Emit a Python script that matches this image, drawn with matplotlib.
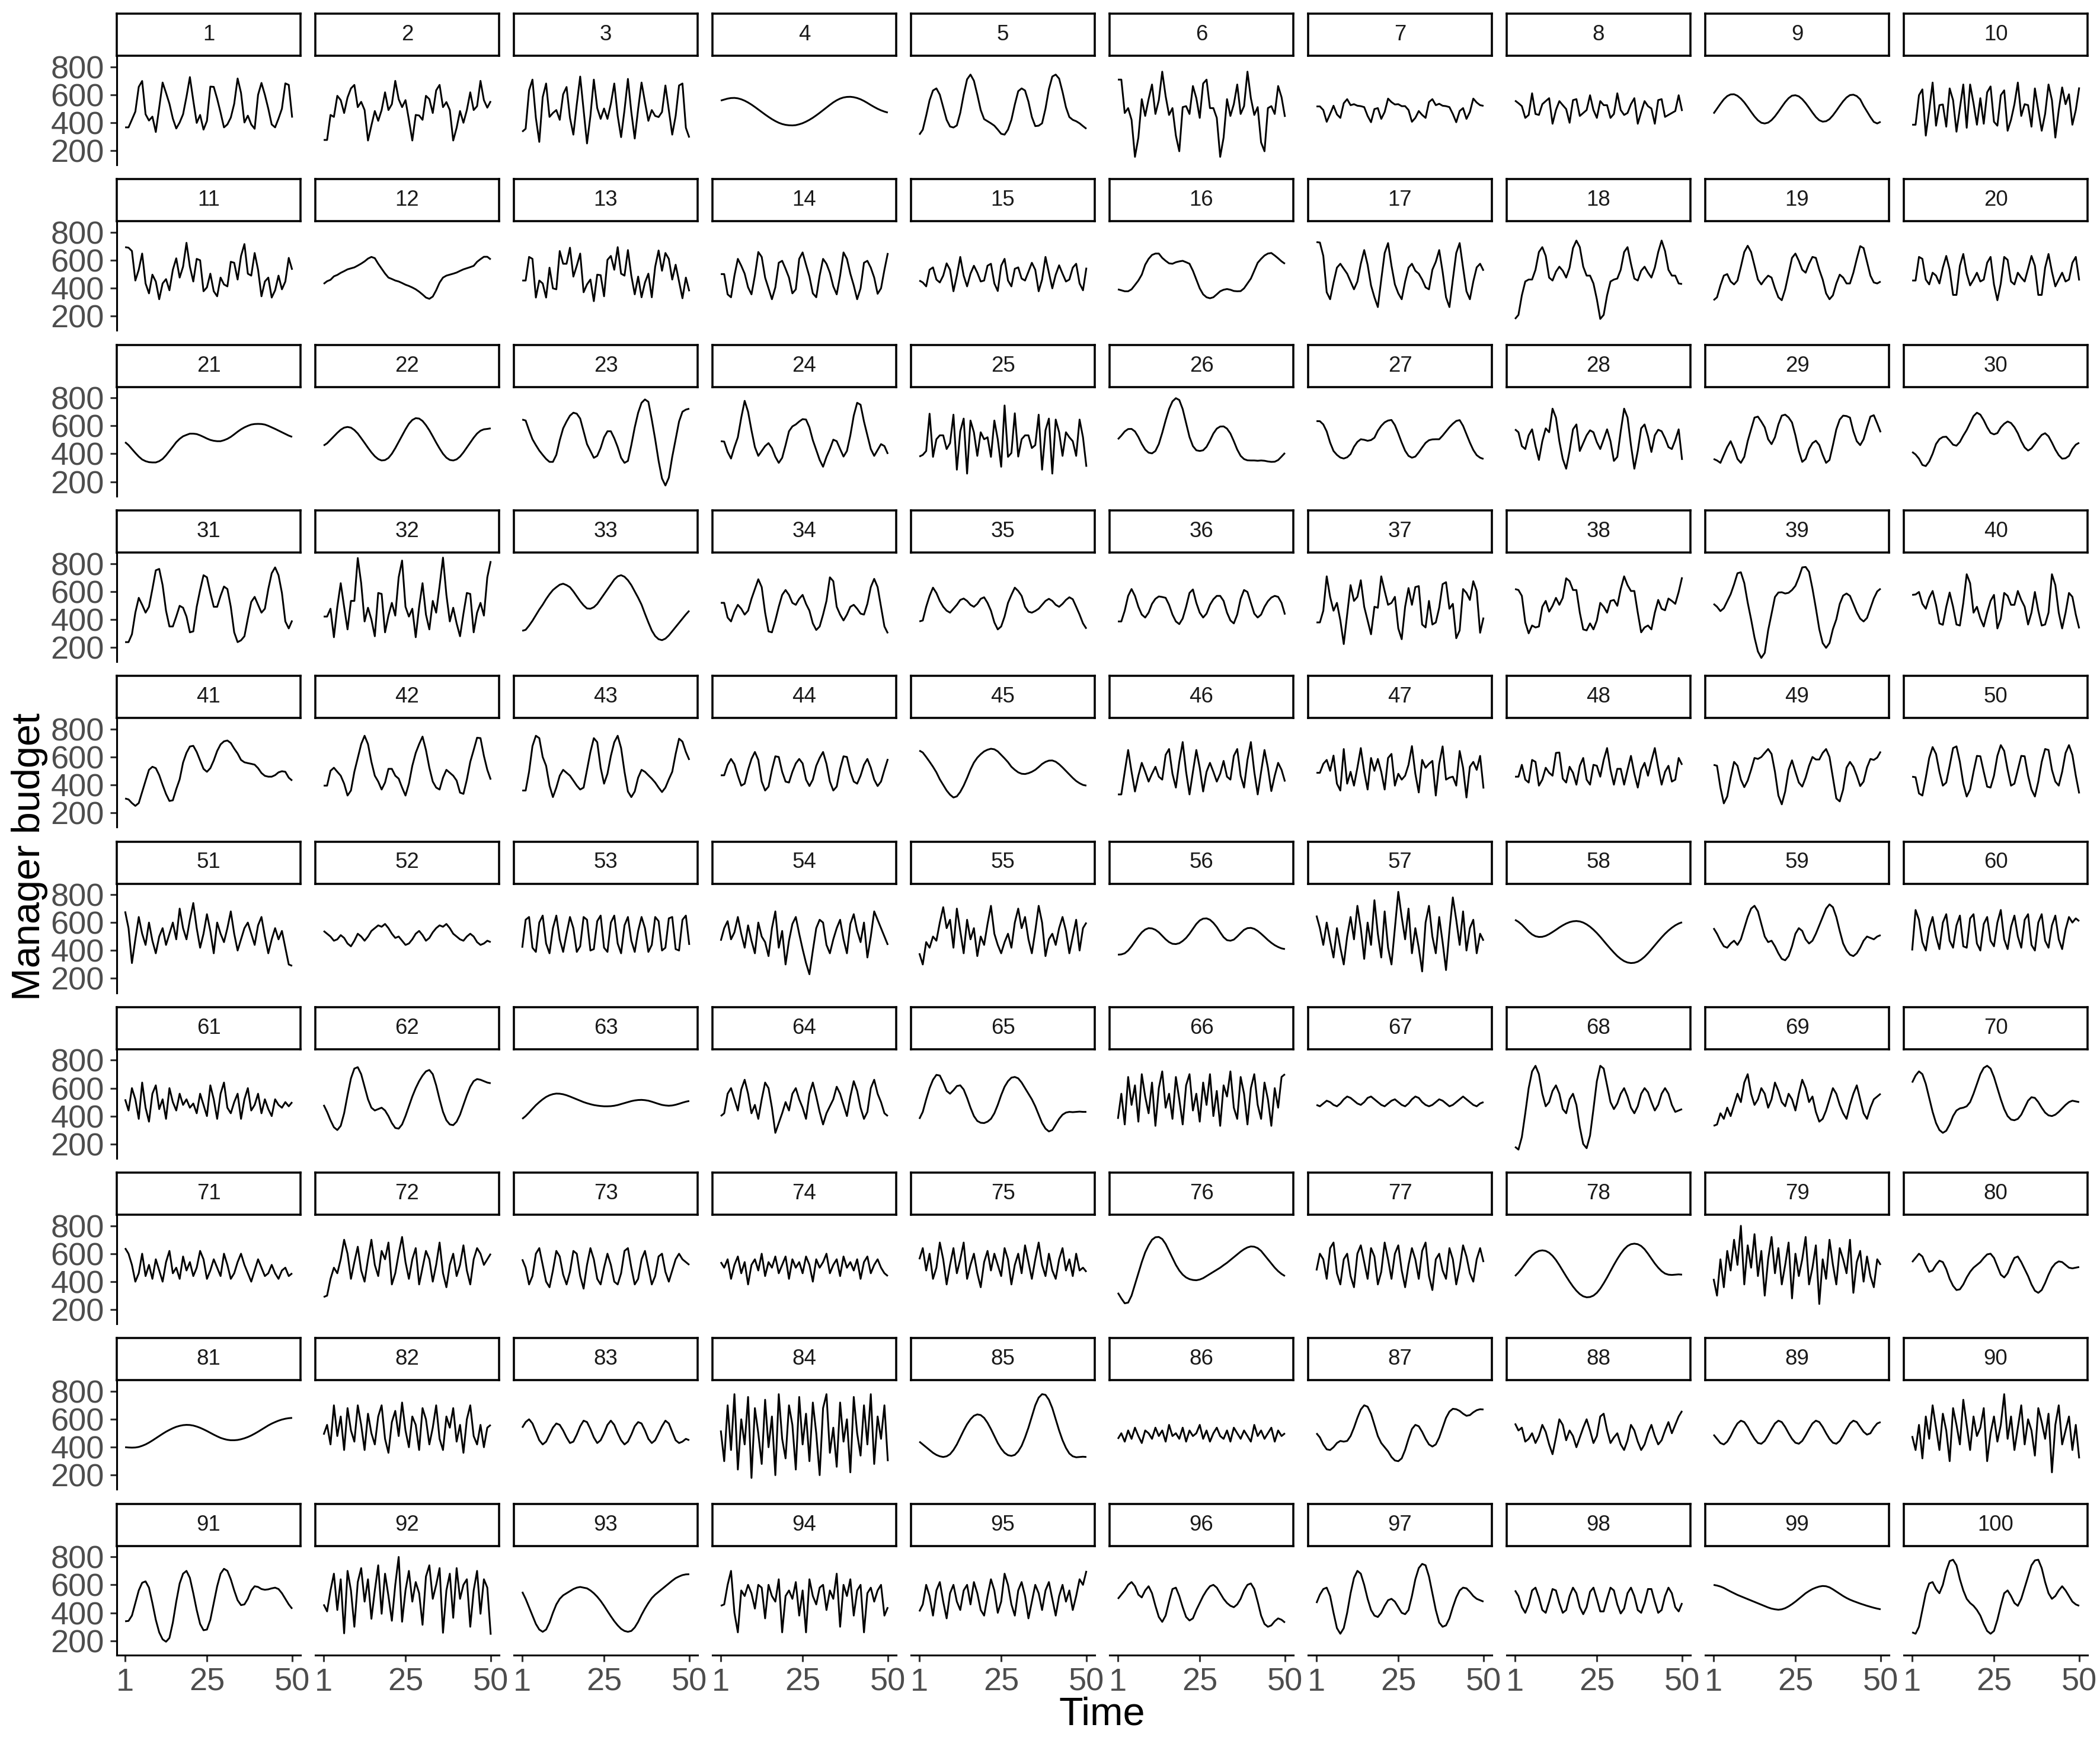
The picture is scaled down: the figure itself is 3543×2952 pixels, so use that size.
import matplotlib
matplotlib.use("Agg")
import matplotlib.pyplot as plt

# ---------------- data ----------------
m1 = [366,366,422,479,656,698,460,415,443,333,507,687,613,535,429,358,401,460,585,726,557,398,455,350,412,658,656,571,472,366,387,436,535,716,613,401,450,387,356,599,684,599,500,387,366,429,500,681,670,436]
m2 = [276,276,455,441,592,561,469,580,645,670,511,549,490,272,380,483,413,490,617,490,532,699,568,511,561,420,272,455,451,420,592,568,469,631,670,511,547,490,272,363,483,399,490,617,490,518,699,561,507,554]
m3 = [335,356,631,708,434,262,582,680,441,469,490,420,603,655,434,314,532,730,490,251,448,708,504,427,501,427,535,680,448,296,490,713,476,286,497,687,547,413,490,448,440,476,666,490,314,448,666,680,363,293]
m4 = [558,565,572,576,577,574,567,557,544,529,512,494,476,458,441,425,411,399,390,384,381,380,382,388,396,407,420,435,452,470,489,508,527,545,560,572,580,584,585,582,576,567,555,541,526,512,499,488,479,472]
m5 = [314,349,450,560,630,645,600,510,420,372,365,380,470,600,710,744,700,600,490,425,410,395,378,350,320,314,350,420,530,625,645,630,550,440,375,378,395,500,640,730,744,715,620,510,440,420,410,395,375,356]
m6 = [708,708,469,504,420,155,293,568,448,568,673,462,561,765,589,455,504,307,195,511,518,462,662,575,434,680,708,504,504,434,155,293,568,448,532,673,462,518,765,575,455,511,258,195,504,518,462,662,582,441]
m7 = [516,516,490,406,462,521,459,434,539,568,525,532,521,518,511,448,403,497,504,427,476,572,547,530,532,518,518,490,406,434,483,455,434,547,568,525,535,521,518,511,462,403,483,504,427,476,572,544,525,520]
m8 = [558,539,518,434,455,610,462,455,532,554,575,392,490,554,525,497,399,561,568,448,469,490,596,490,434,554,525,525,434,462,610,490,455,469,532,575,392,476,554,518,501,392,561,568,441,455,469,483,596,483]
m9 = [465,500,535,567,590,602,603,592,572,545,512,477,444,417,399,394,400,418,445,478,513,547,575,593,596,588,568,540,507,472,440,417,407,410,425,452,485,520,553,580,597,600,590,567,520,480,440,405,394,406]
m10 = [385,385,596,638,307,490,687,378,525,530,371,645,561,335,504,673,363,673,539,385,575,392,617,659,406,378,596,631,342,420,532,687,448,532,525,371,645,490,342,462,673,561,293,490,652,532,603,385,490,652]
m11 = [694,690,666,455,532,648,434,363,497,448,321,434,465,385,532,614,476,554,725,554,448,610,600,378,406,504,378,342,476,427,413,589,582,462,631,716,504,490,652,532,342,448,476,333,385,490,392,448,617,532]
m12 = [431,450,460,485,495,510,522,535,542,549,562,576,592,612,624,615,575,540,505,476,466,455,448,437,425,416,405,392,375,355,333,324,340,385,440,476,490,497,504,512,524,535,543,551,560,589,608,625,625,606]
m13 = [455,455,624,610,333,455,434,333,547,399,392,666,575,575,690,483,561,648,371,427,462,307,497,493,342,603,631,532,694,504,490,673,490,356,483,335,441,504,335,554,670,525,652,610,462,568,448,328,476,378]
m14 = [501,501,356,335,490,610,561,504,406,356,490,659,624,476,399,321,406,582,596,539,476,363,392,610,656,568,483,363,335,490,610,575,511,413,356,490,656,610,504,420,321,399,582,596,547,476,360,399,532,652]
m15 = [455,441,413,532,549,462,441,490,578,532,378,490,624,490,413,504,561,511,448,455,561,575,434,380,561,610,455,413,539,549,469,455,518,582,532,378,462,624,511,399,497,564,504,448,462,547,575,434,385,547]
m16 = [392,385,378,378,392,423,455,497,568,610,638,648,648,617,596,578,575,586,592,596,586,575,525,462,399,356,335,328,335,356,378,389,394,389,380,378,379,399,434,469,525,582,610,634,648,652,634,614,592,575]
m17 = [730,727,631,371,321,441,547,575,539,504,448,392,448,575,673,568,420,335,265,462,652,723,561,427,363,321,448,547,575,525,504,462,406,392,532,589,673,518,335,265,462,652,723,547,378,321,448,549,575,525]
m18 = [180,209,349,448,462,462,532,659,694,631,476,455,518,554,525,476,547,687,741,694,554,490,490,434,321,180,209,349,448,462,469,532,659,694,575,469,455,525,554,511,476,547,659,741,666,532,490,490,434,430]
m19 = [314,335,420,490,501,448,427,455,554,659,704,659,561,462,427,462,490,476,399,335,314,392,504,617,648,596,532,511,575,624,617,532,462,363,321,349,434,497,476,434,434,511,610,701,687,589,490,441,434,448]
m20 = [455,455,624,610,462,427,511,490,434,547,631,532,352,352,561,645,504,420,462,511,448,462,582,624,427,314,434,624,603,448,427,511,476,448,539,631,561,352,352,547,645,518,413,462,511,448,462,582,624,455]
m21 = [483,462,434,406,380,359,347,340,338,338,347,363,389,420,451,483,507,525,535,544,544,541,532,521,509,499,493,490,490,497,507,521,539,558,575,589,600,609,613,614,613,609,600,589,578,566,554,542,530,521]
m22 = [459,475,500,525,550,572,587,592,587,570,545,512,478,443,410,382,362,352,355,370,400,440,485,530,575,615,642,655,652,635,605,568,525,480,438,400,372,356,352,360,380,410,445,480,515,545,565,575,578,582]
m23 = [645,638,568,504,462,423,392,363,342,342,392,497,582,631,673,694,687,652,561,469,420,371,385,441,518,561,561,511,448,371,335,349,462,589,694,765,789,772,645,504,349,223,173,229,378,504,631,701,716,723]
m24 = [490,487,413,366,448,518,659,779,701,568,448,385,420,455,476,441,378,335,371,462,561,596,610,631,648,645,589,497,427,356,307,378,434,501,490,434,380,420,532,673,765,751,631,532,434,385,427,469,455,399]
m25 = [380,392,420,687,378,504,532,532,434,476,680,286,561,652,258,638,554,385,554,504,518,378,638,504,307,746,378,406,690,380,504,532,532,441,462,680,286,568,652,258,645,554,385,554,518,490,385,645,518,307]
m26 = [504,530,560,577,578,560,520,470,430,408,403,420,470,550,640,720,775,798,785,720,620,520,455,425,420,425,450,495,545,580,595,596,580,545,490,430,385,362,353,352,352,350,352,350,345,342,343,355,380,406]
m27 = [634,633,610,560,480,420,392,373,366,375,398,450,485,504,500,493,498,515,565,600,625,638,642,605,545,480,422,385,372,380,410,445,478,497,503,504,504,530,560,590,615,635,641,600,540,480,427,390,372,363]
m28 = [575,554,455,434,532,575,455,356,490,582,554,723,659,490,363,293,420,575,610,420,476,532,568,554,483,434,504,575,490,349,378,561,723,659,462,293,420,582,610,525,413,532,572,561,511,448,434,497,575,356]
m29 = [363,352,335,392,448,490,434,363,335,378,490,575,659,666,630,589,504,469,518,610,673,680,660,624,532,420,342,363,434,476,493,462,392,335,356,462,575,645,673,670,659,561,490,462,504,589,666,676,617,554]
m30 = [413,395,365,320,312,345,400,470,505,520,522,495,465,458,485,530,570,620,670,694,680,640,590,550,539,548,589,615,631,620,590,547,490,445,423,438,470,505,535,547,525,480,430,390,365,368,385,434,465,479]
m31 = [237,237,293,448,554,504,448,490,617,751,761,645,462,349,349,420,497,483,420,307,314,490,610,716,701,589,490,490,568,635,617,490,307,237,250,279,406,525,561,504,448,476,617,730,772,716,589,385,335,392]
m32 = [420,420,476,272,490,659,490,328,532,532,839,659,385,483,399,279,589,582,307,427,518,427,701,821,490,420,476,272,490,659,434,328,532,448,638,842,575,385,483,371,279,441,589,582,307,448,518,427,701,817]
m33 = [318,325,355,390,430,470,505,545,580,610,630,648,655,645,630,600,565,530,500,478,476,487,510,545,580,615,650,685,708,716,705,680,645,600,555,505,440,378,320,280,258,251,262,285,315,345,375,405,435,462]
m34 = [518,518,413,385,455,504,476,434,462,547,617,687,631,448,314,307,392,490,575,610,575,518,504,547,575,511,462,371,324,349,434,532,701,673,490,434,392,434,490,504,476,441,434,511,631,690,631,490,349,300]
m35 = [385,392,490,568,627,589,532,490,462,448,476,504,539,549,532,504,490,511,547,558,518,462,378,328,349,420,518,575,627,603,568,490,455,448,460,476,504,532,547,532,504,490,511,539,558,544,490,434,371,333]
m36 = [385,385,462,568,617,568,490,434,413,448,511,547,564,560,554,504,434,385,366,406,490,589,614,518,448,413,441,504,544,568,568,532,448,392,371,434,547,610,596,518,441,413,434,490,530,556,568,561,518,434]
m37 = [378,378,462,708,561,462,518,392,223,434,645,532,561,680,490,392,293,490,483,708,603,504,518,561,335,258,490,624,504,631,638,363,342,532,363,378,483,652,666,476,511,265,321,617,589,539,673,603,304,413]
m38 = [617,610,568,378,300,356,342,349,490,532,455,497,554,504,554,694,673,610,610,448,328,321,371,328,392,518,490,448,532,539,497,617,708,645,603,603,448,307,342,356,328,448,539,476,465,549,532,511,596,701]
m39 = [511,490,459,480,530,580,650,730,737,660,520,400,270,170,124,160,321,440,560,592,594,585,590,610,640,700,772,775,740,620,480,330,230,196,230,330,400,510,570,585,568,510,450,405,385,410,480,550,600,620]
m40 = [575,578,596,511,476,554,603,504,371,361,490,592,490,363,356,518,723,659,448,490,406,349,448,532,575,335,406,589,568,504,504,603,539,490,363,448,596,462,356,363,448,723,645,448,335,448,589,561,434,335]
m41 = [303,296,270,250,270,350,430,508,530,520,470,400,335,285,290,370,440,560,630,675,680,636,575,515,494,520,575,643,690,712,718,700,660,625,579,562,556,551,545,520,485,465,459,459,470,490,498,494,452,431]
m42 = [395,395,501,523,494,466,409,324,360,494,593,692,752,692,565,466,424,367,417,515,515,466,445,381,324,409,537,629,692,746,650,523,424,381,367,452,508,487,466,431,345,336,438,565,650,738,735,608,508,438]
m43 = [360,360,494,678,752,735,600,537,395,313,381,466,508,487,466,431,395,367,381,508,636,735,706,523,409,480,608,706,752,664,494,353,313,353,452,508,494,469,445,417,381,349,381,440,494,622,731,710,636,579]
m44 = [469,469,544,586,548,466,395,409,508,586,636,579,424,360,388,508,605,600,494,424,417,494,554,586,554,438,392,438,537,593,636,551,424,360,388,515,605,600,494,424,409,466,544,586,523,438,392,424,508,586]
m45 = [646,632,600,566,530,490,440,400,360,330,310,318,350,395,450,510,560,595,620,640,652,659,655,640,615,590,563,530,508,490,480,478,484,494,508,528,550,565,574,575,566,548,525,500,475,450,428,412,400,395]
m46 = [332,332,494,650,494,353,466,558,494,424,480,530,459,438,615,657,480,381,565,707,494,332,494,650,523,353,494,558,494,424,480,572,459,438,608,657,466,381,579,707,494,332,494,650,523,356,466,558,508,424]
m47 = [487,487,551,579,501,610,409,360,657,409,494,395,523,664,494,367,593,501,586,494,367,593,622,395,480,438,466,544,678,480,346,579,523,551,572,324,551,676,438,452,459,395,643,523,310,530,565,508,608,374]
m48 = [459,459,544,438,417,579,565,395,438,523,487,466,629,632,445,417,530,487,402,537,593,438,402,544,537,459,579,664,508,402,515,515,402,508,608,480,381,508,558,466,572,664,523,402,494,537,424,438,593,544]
m49 = [544,537,381,268,317,452,565,537,438,384,431,508,593,586,600,629,657,622,494,324,261,353,508,576,494,417,388,452,537,600,582,582,629,657,600,452,303,282,367,523,565,530,466,392,424,525,586,579,596,639]
m50 = [459,455,339,324,452,593,671,622,494,395,417,537,664,676,565,409,317,367,494,608,605,494,388,381,466,608,685,643,508,395,409,508,608,605,466,367,317,424,565,657,650,508,424,395,494,629,685,615,466,339]
m51 = [680,560,310,480,640,520,440,600,470,380,500,560,440,520,600,480,700,560,480,620,740,560,420,520,660,540,380,600,520,460,560,680,520,400,480,560,600,520,440,580,640,500,380,480,560,480,540,420,300,290]
m52 = [540,520,500,470,480,510,490,450,430,470,520,500,470,500,540,560,580,570,590,560,520,490,500,470,440,450,480,520,540,510,470,490,530,560,580,570,590,560,520,500,480,470,500,520,500,460,440,450,470,460]
m53 = [420,620,640,420,390,600,650,450,380,560,650,480,390,520,640,560,390,430,640,620,400,410,610,650,420,390,600,650,450,380,580,640,470,390,540,640,560,390,440,640,610,400,420,630,640,410,400,620,650,440]
m54 = [470,560,610,480,530,640,520,420,580,470,380,600,500,460,360,560,680,420,540,300,470,590,640,520,410,310,230,400,560,620,600,440,380,480,560,620,480,380,590,660,540,460,600,350,500,680,620,560,500,440]
m55 = [380,300,460,420,500,470,600,710,560,620,420,700,540,380,620,480,560,360,500,440,590,720,520,440,380,460,520,420,600,700,560,640,480,380,540,720,600,360,480,520,440,560,640,540,380,500,620,400,560,600]
m56 = [370,372,380,400,430,465,500,530,550,560,558,548,530,505,480,460,448,446,452,468,490,520,555,590,615,628,630,620,598,568,530,495,474,470,478,500,525,548,560,562,555,540,520,498,475,455,438,425,415,410]
m57 = [650,560,440,600,470,350,560,420,300,500,640,480,720,560,340,600,440,760,520,350,680,420,300,560,820,640,480,700,380,560,420,250,600,720,500,380,640,460,260,540,780,620,440,680,400,560,620,380,520,470]
m58 = [620,605,585,560,535,515,502,497,498,505,517,532,548,565,580,593,603,609,611,608,600,587,570,549,525,498,469,440,412,385,360,340,324,314,310,312,320,335,355,380,408,437,466,494,520,543,563,580,593,602]
m59 = [560,520,470,430,420,450,470,440,480,560,640,700,720,680,590,500,460,470,430,380,340,330,360,430,520,560,540,480,450,470,520,580,640,700,730,710,640,540,450,400,370,360,380,420,470,500,490,480,500,510]
m60 = [400,690,620,460,400,560,640,500,410,600,660,470,420,580,650,430,420,630,660,450,400,590,640,470,430,600,690,480,410,570,650,500,420,620,660,440,400,600,660,470,420,580,650,480,410,550,640,600,630,610]
m61 = [520,440,600,520,380,640,460,360,560,620,450,520,380,600,500,440,560,480,520,460,490,420,560,480,400,620,520,380,560,640,460,420,500,560,380,520,600,440,480,560,420,520,450,400,520,480,460,500,470,500]
m62 = [480,430,370,320,300,330,420,550,670,740,750,700,610,520,460,440,450,460,440,400,350,315,310,340,400,470,540,600,650,690,720,730,700,620,520,430,370,340,335,360,410,480,550,610,650,665,660,650,640,635]
m63 = [380,400,425,452,478,500,520,537,549,557,561,560,556,549,540,530,520,510,500,492,485,479,475,472,470,470,471,474,479,486,493,500,507,512,515,516,514,510,503,495,487,480,476,474,476,481,488,496,503,508]
m64 = [400,420,560,600,520,440,590,660,560,420,480,380,520,640,600,460,280,350,420,500,440,560,600,520,460,380,560,640,540,430,340,420,470,520,610,560,480,400,540,650,580,460,380,430,600,660,560,500,420,400]
m65 = [380,430,520,600,660,695,690,640,580,560,585,615,620,590,530,460,400,365,352,350,360,380,420,480,550,610,650,675,680,670,640,600,560,520,470,410,350,310,290,300,340,380,410,425,430,428,430,432,430,430]
m66 = [380,560,340,680,480,620,360,700,540,420,640,330,600,720,460,560,380,680,520,340,620,700,440,560,360,640,480,700,400,580,330,620,540,720,460,380,680,560,340,600,700,480,380,640,520,330,600,460,680,700]
m67 = [480,470,490,510,500,480,470,490,520,540,530,510,490,480,500,530,540,520,500,480,470,490,510,520,500,480,470,490,520,540,530,500,480,470,480,500,520,510,490,470,480,500,520,540,520,500,480,470,490,500]
m68 = [180,160,250,420,600,720,760,700,560,470,500,580,620,560,450,420,520,560,480,320,200,170,260,450,650,760,740,620,500,450,490,560,600,540,460,420,470,560,600,570,500,440,480,560,600,560,480,430,440,450]
m69 = [330,340,420,380,460,400,480,560,500,640,700,560,480,520,600,560,460,520,640,580,500,470,560,520,440,560,660,600,500,540,430,360,380,440,520,600,560,480,420,380,480,560,620,520,420,380,460,520,540,560]
m70 = [640,690,720,700,630,530,430,350,300,280,295,340,400,440,455,460,470,500,560,630,700,745,760,740,680,600,520,450,400,375,370,380,410,460,510,535,530,500,460,425,405,400,410,430,455,480,500,510,505,500]
m71 = [640,600,520,400,460,600,440,520,420,560,480,400,540,620,460,500,420,580,480,540,440,500,620,560,420,480,560,500,440,600,520,420,460,540,600,520,460,400,480,560,500,440,460,520,460,420,480,500,440,460]
m72 = [290,300,420,500,460,560,700,600,420,540,650,480,400,560,700,520,440,620,560,680,380,460,600,720,540,420,560,640,380,500,620,560,400,520,680,460,360,520,600,440,520,660,480,380,560,640,600,520,560,600]
m73 = [560,500,380,440,600,640,520,400,360,480,620,580,450,380,470,620,600,440,350,520,640,560,420,380,500,600,520,400,380,460,620,640,500,380,420,560,620,500,380,440,580,600,470,400,480,560,600,560,540,520]
m74 = [540,500,560,420,520,580,460,540,380,520,560,480,600,440,540,500,580,460,520,580,420,560,500,540,460,580,520,400,560,500,540,600,460,520,560,440,580,500,540,480,560,420,540,580,460,520,560,500,460,440]
m75 = [560,640,480,600,420,500,680,560,380,520,640,460,560,680,420,520,600,460,360,540,620,480,600,520,440,640,560,380,520,600,460,660,540,420,560,680,520,440,600,480,420,560,640,480,560,440,600,480,500,470]
m76 = [320,280,245,250,300,380,460,540,610,660,700,718,720,705,670,620,570,520,480,450,430,418,412,410,415,425,440,455,470,485,500,518,535,555,575,595,615,632,645,652,650,640,620,590,560,530,500,475,455,440]
m77 = [480,600,560,420,640,680,460,380,560,600,440,360,600,660,540,420,640,580,380,470,680,560,420,600,660,480,360,520,640,560,420,620,680,440,340,560,600,480,420,640,560,380,500,660,580,460,400,560,640,540]
m78 = [440,465,495,528,560,588,608,620,624,620,607,585,555,518,478,438,400,365,335,311,295,288,290,300,320,350,388,430,475,520,562,600,632,655,668,672,668,655,632,600,565,530,500,475,458,450,448,450,452,450]
m79 = [420,300,560,360,620,480,700,520,800,380,660,500,740,440,620,300,560,720,460,640,380,520,680,280,600,440,560,720,380,500,660,240,560,420,700,520,380,640,560,460,700,320,540,620,400,580,440,360,560,520]
m80 = [540,570,600,580,520,470,480,520,550,540,490,420,370,340,345,380,430,470,500,520,540,570,595,600,570,510,450,430,460,520,570,580,540,490,440,380,335,320,340,390,450,500,530,545,540,520,500,495,500,505]
m81 = [400,398,397,398,402,410,420,433,448,464,480,496,511,524,536,546,553,558,560,559,555,548,539,528,516,503,490,478,467,459,453,450,450,452,457,464,473,484,497,511,526,541,556,569,580,590,598,604,608,610]
m82 = [490,560,420,700,480,620,380,680,520,440,700,560,380,640,500,420,620,700,460,360,580,660,480,720,520,400,620,560,380,680,600,420,540,700,460,380,620,540,680,440,560,360,600,700,480,420,560,400,540,560]
m83 = [540,580,600,570,510,450,420,440,490,540,570,560,520,470,430,440,490,550,590,580,530,470,430,450,500,560,590,560,500,450,420,440,490,550,580,570,520,460,430,450,500,550,590,570,510,450,430,440,460,450]
m84 = [520,300,700,380,780,240,600,420,760,180,680,500,280,740,400,620,200,780,460,320,700,560,240,760,420,640,300,720,500,200,680,780,360,540,260,720,440,600,220,760,500,340,700,420,780,280,620,460,700,300]
m85 = [440,420,400,380,360,345,335,330,335,350,380,420,470,520,565,600,625,635,630,610,575,530,480,430,390,360,343,338,345,370,410,470,540,620,700,755,780,775,740,680,600,520,450,395,355,335,328,330,332,330]
m86 = [460,500,440,520,460,540,480,430,520,500,460,540,480,520,440,560,480,500,460,540,440,520,480,500,560,460,520,440,500,540,480,460,520,440,540,500,460,520,480,440,560,480,520,460,500,540,440,520,480,500]
m87 = [500,470,420,385,380,400,430,445,440,445,480,540,610,670,700,690,640,560,480,430,400,370,330,305,300,320,380,460,530,560,550,510,460,420,405,420,470,540,610,655,675,672,660,640,625,630,650,665,672,670]
m88 = [570,520,540,440,460,500,430,480,560,510,420,350,470,600,560,450,520,480,400,470,540,600,520,430,480,620,640,520,430,470,500,420,380,450,560,520,440,380,420,500,560,480,420,450,520,580,500,560,620,660]
m89 = [490,460,430,420,440,480,530,570,590,580,545,500,460,430,425,445,485,530,570,590,580,545,500,460,432,425,445,485,530,570,590,580,545,500,460,432,425,445,485,530,570,590,580,545,510,490,500,540,570,580]
m90 = [480,380,560,320,620,460,700,540,380,640,520,300,680,560,420,740,560,380,620,480,540,680,300,500,620,440,560,780,460,620,380,540,700,420,600,520,340,680,580,460,640,220,560,700,420,520,620,380,560,320]
m91 = [339,342,380,470,560,615,625,580,470,350,260,210,193,220,330,480,610,680,700,650,540,420,320,275,280,350,470,590,680,715,700,640,560,490,455,460,500,560,590,585,570,565,568,575,580,570,540,500,460,429]
m92 = [460,410,560,680,420,640,253,700,560,300,620,720,480,640,357,560,740,393,680,520,343,600,800,336,560,700,480,620,540,314,660,740,500,600,720,257,560,680,364,720,500,600,640,300,560,700,393,640,580,243]
m93 = [550,500,440,380,320,280,264,280,330,400,460,500,525,540,555,570,580,585,580,575,560,540,515,485,450,412,375,340,310,285,270,264,270,295,335,385,430,470,505,530,550,570,590,610,630,648,660,670,675,676]
m94 = [450,460,600,700,400,260,560,520,600,540,430,600,580,360,600,520,480,640,260,520,560,500,620,380,560,260,640,520,460,580,600,420,560,500,680,300,600,520,640,380,560,600,260,540,580,480,560,600,380,440]
m95 = [410,460,600,520,380,560,620,480,360,540,600,480,420,560,600,460,620,540,420,380,520,640,560,400,480,680,600,460,380,560,620,520,360,480,600,540,420,560,620,500,380,520,600,480,560,420,520,640,600,700]
m96 = [500,530,560,600,620,590,530,510,560,590,540,450,370,335,380,480,570,580,520,440,370,345,360,420,470,520,560,590,600,580,540,500,470,450,440,460,500,560,600,610,570,480,380,320,300,310,340,360,350,330]
m97 = [470,530,570,580,520,400,290,250,290,400,540,650,700,680,600,500,420,380,370,400,450,490,500,480,440,400,390,420,520,640,720,750,740,660,540,420,330,300,310,360,440,510,560,580,575,550,520,500,490,480]
m98 = [560,520,440,400,460,560,580,510,420,400,480,570,560,470,400,420,520,580,540,440,390,440,550,580,500,410,410,500,580,560,460,395,430,540,580,520,420,400,470,570,570,480,400,420,520,580,540,440,410,470]
m99 = [600,595,588,578,565,552,540,528,518,508,498,488,478,468,458,448,438,430,425,422,425,433,446,462,480,500,520,540,556,570,580,588,592,590,582,568,552,536,520,506,494,484,475,466,458,450,443,436,430,425]
m100 = [260,250,300,420,540,610,620,570,540,600,700,770,780,740,640,560,500,470,450,420,380,320,270,250,270,350,450,540,560,520,470,450,500,580,660,740,775,780,720,620,540,500,520,560,590,560,520,480,460,450]

panel_ids = list(range(1, 101))
time = list(range(1, 51))
x_ticks = [1, 25, 50]
y_ticks = [200, 400, 600, 800]
x_label = "Time"
y_label = "Manager budget"

series = {k: globals().get(f"m{k}") for k in panel_ids}

# ---------------- layout ----------------
W, H = 3543, 2952
DPI = 300
fig = plt.figure(figsize=(W / DPI, H / DPI), dpi=DPI)
fig.patch.set_facecolor("white")

FONT = ["Liberation Sans", "DejaVu Sans"]
left0, colstep, pw = 197.0, 335.0, 310.0
top0, rowstep, ph, sh = 94.0, 279.3, 184.0, 71.0
ylim = (98, 879)
xlim = (1 - 0.05 * 49, 50 + 0.05 * 49)

for i, pid in enumerate(panel_ids):
    r, c = divmod(i, 10)
    x = left0 + c * colstep
    ytop = top0 + r * rowstep
    ax = fig.add_axes([x / W, 1 - (ytop + ph) / H, pw / W, ph / H])
    ax.set_xlim(*xlim)
    ax.set_ylim(*ylim)
    ax.set_facecolor("white")
    vals = series[pid]
    if vals is not None:
        ax.plot(time[:len(vals)], vals, color="black", lw=0.72,
                solid_joinstyle="round", solid_capstyle="butt")
    for s in ("top", "right"):
        ax.spines[s].set_visible(False)
    ax.spines["left"].set_visible(c == 0)
    ax.spines["bottom"].set_visible(r == 9)
    for s in ("left", "bottom"):
        ax.spines[s].set_linewidth(0.75)
        ax.spines[s].set_color("black")
    if c == 0:
        ax.set_yticks(y_ticks)
        ax.set_yticklabels([str(v) for v in y_ticks], fontfamily=FONT,
                           fontsize=13, color="#4D4D4D")
        ax.tick_params(axis="y", length=2.6, width=0.75, color="#333333", pad=2.5)
    else:
        ax.set_yticks([])
    if r == 9:
        ax.set_xticks(x_ticks)
        ax.set_xticklabels([str(v) for v in x_ticks], fontfamily=FONT,
                           fontsize=13, color="#4D4D4D")
        ax.tick_params(axis="x", length=2.6, width=0.75, color="#333333", pad=2.5)
    else:
        ax.set_xticks([])

    # strip
    sx = fig.add_axes([x / W, 1 - ytop / H, pw / W, sh / H])
    sx.set_xticks([])
    sx.set_yticks([])
    sx.set_facecolor("white")
    for s in sx.spines.values():
        s.set_linewidth(0.85)
        s.set_color("black")
    sx.text(0.5, 0.5, str(pid), ha="center", va="center", fontsize=8.8,
            color="#1A1A1A", fontfamily=FONT, transform=sx.transAxes)

panels_cx = left0 + (9 * colstep + pw) / 2
fig.text(panels_cx / W, 1 - 2893 / H, x_label,
         ha="center", va="center", fontsize=16, fontfamily=FONT, color="black")
fig.text(50 / W, 1 - 1445 / H, y_label,
         ha="center", va="center", rotation=90, fontsize=16, fontfamily=FONT,
         color="black")

fig.savefig("out.png", dpi=DPI, facecolor="white")
